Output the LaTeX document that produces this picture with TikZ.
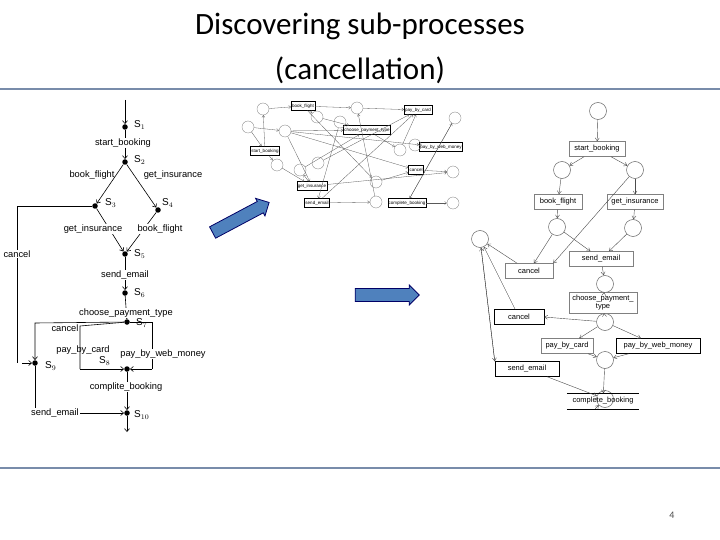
\documentclass[tikz,border=0pt]{standalone}
\usepackage{fontspec}
\setmainfont{Carlito}
\usetikzlibrary{arrows.meta,shapes.arrows}
\definecolor{rulec}{RGB}{120,140,170}
\definecolor{blu}{RGB}{79,129,189}
\begin{document}
\begin{tikzpicture}[x=1pt,y=-1pt,
  st/.style={circle,fill=black,inner sep=0pt,minimum size=5.5pt},
  lb/.style={font=\fontspec{Liberation Sans}\fontsize{9.3}{10}\selectfont,inner sep=1pt},
  sl/.style={font=\fontspec{Liberation Sans}\fontsize{10}{10}\selectfont,inner sep=1pt,anchor=west},
  ar/.style={-{Straight Barb[length=3pt,width=5pt]},line width=0.6pt},
  ln/.style={line width=0.6pt},
  mb/.style={draw,font=\fontspec{Liberation Sans}\fontsize{4.5}{5}\selectfont,inner sep=1pt,minimum height=9pt,line width=0.4pt},
  mc/.style={draw,circle,minimum size=12pt,inner sep=0pt,line width=0.3pt,gray},
  ma/.style={-{Straight Barb[length=2pt,width=3pt]},line width=0.3pt,gray!70!black},
  pb/.style={draw=gray,font=\fontspec{Liberation Sans}\fontsize{7.5}{8}\selectfont,inner sep=1pt,minimum height=15pt,line width=0.5pt},
  pc/.style={draw=gray!80!black,circle,minimum size=17pt,inner sep=0pt,line width=0.5pt},
  pa/.style={-{Straight Barb[length=3pt,width=4pt]},line width=0.4pt,gray!60!black},
  blk/.style={single arrow,draw=blue!40!black,line width=0.8pt,fill=blu,minimum height=64pt,minimum width=20pt,single arrow head extend=3pt,single arrow head indent=0pt,inner sep=5pt}]
\useasboundingbox (0,0) rectangle (720,540);
% title
\node[font=\fontsize{31}{34}\selectfont] (t1) at (360,26) {Discovering sub-processes};
\node[font=\fontsize{31}{34}\selectfont] (t2) at (360,70) {(cancellation)};
\draw[line width=2pt,rulec] (0,89) -- (720,89);
\draw[line width=2pt,rulec] (0,468) -- (720,468);
\node[font=\fontsize{10}{12}\selectfont,gray!60!black] (pg) at (672,515) {4};
% left diagram
\node[st] (s1) at (125,127) {}; \node[st] (s2) at (125,162) {};
\node[st] (s3) at (95,206) {}; \node[st] (s4) at (158,210) {};
\node[st] (s5) at (125,254) {}; \node[st] (s6) at (125,293) {};
\node[st] (s7) at (127,322) {}; \node[st] (s8) at (127,369) {};
\node[st] (s9) at (35,363) {}; \node[st] (s10) at (127,413) {};
\coordinate (in) at (125,100); \coordinate (out) at (127,432);
\draw[ar] (in) -- (s1); \draw[ar] (s1) -- (s2);
\draw[ar] (s2) -- (s3); \draw[ar] (s2) -- (s4);
\draw[ar] (s3) -- (s5); \draw[ar] (s4) -- (s5);
\draw[ar] (s5) -- (s6); \draw[ar] (s6) -- (s7);
\draw[ar] (s8) -- (s10); \draw[ar] (s10) -- (out);
\draw[ln] (s3) -- (17,206) -- (17,363); \draw[ar] (22,363) -- (s9);
\draw[ar] (s7) -- (35,323) -- (s9);
\draw[ln] (s7) -- (80,326) -- (80,369); \draw[ar] (80,369) -- (s8);
\draw[ln] (s7) -- (152,322) -- (152,369); \draw[ar] (152,369) -- (s8);
\draw[ar] (s9) -- (35,413) -- (s10);
\node[sl] at (133,125) {S$_1$}; \node[sl] at (133,160) {S$_2$};
\node[sl] at (104,203) {S$_3$}; \node[sl] at (161,203) {S$_4$};
\node[sl] at (133,254) {S$_5$}; \node[sl] at (133,293) {S$_6$};
\node[sl] at (135,323) {S$_7$}; \node[sl] at (98,361) {S$_8$};
\node[sl] at (44,366) {S$_9$}; \node[sl] at (133,415) {S$_{10}$};
\node[lb,fill=white] at (123,143) {start\_booking};
\node[lb] at (92,175) {book\_flight}; \node[lb] at (173,175) {get\_insurance};
\node[lb,fill=white] at (93,229) {get\_insurance}; \node[lb,fill=white] at (160,229) {book\_flight};
\node[lb,fill=white] at (17,254) {cancel};
\node[lb,fill=white] at (125,275) {send\_email};
\node[lb,fill=white] at (126,313) {choose\_payment\_type};
\node[lb,fill=white] at (65,328) {cancel};
\node[lb] at (83,350) {pay\_by\_card};
\node[lb,fill=white] at (163,354) {pay\_by\_web\_money};
\node[lb,fill=white] at (126,387) {complite\_booking};
\node[lb,fill=white] at (55,413) {send\_email};
% blue arrows
\node[blk,rotate=28] (ba1) at (238,219) {};
\node[blk] (ba2) at (384,295) {};
% middle mini net
\node[mb] (mbf) at (303,106) {book\_flight};
\node[mb] (mpc) at (418,110) {pay\_by\_card};
\node[mb] (mch) at (367,130) {choose\_payment\_type};
\node[mb] (msb) at (265,151) {start\_booking};
\node[mb] (mpw) at (441,147) {pay\_by\_web\_money};
\node[mb] (mca) at (416,170) {cancel};
\node[mb] (mgi) at (312,186) {get\_insurance};
\node[mb] (mse) at (317,203) {send\_email};
\node[mb] (mcb) at (407,203) {complete\_booking};
\node[mc] (c1) at (263,109) {}; \node[mc] (c2) at (248,127) {};
\node[mc] (c3) at (285,131) {}; \node[mc] (c4) at (277,165) {};
\node[mc] (c5) at (317,117) {}; \node[mc] (c6) at (357,108) {};
\node[mc] (c7) at (340,122) {}; \node[mc] (c8) at (455,118) {};
\node[mc] (c9) at (400,150) {}; \node[mc] (c10) at (415,145) {};
\node[mc] (c11) at (318,163) {}; \node[mc] (c12) at (376,182) {};
\node[mc] (c13) at (376,202) {}; \node[mc] (c14) at (453,172) {};
\node[mc] (c15) at (453,203) {}; \node[mc] (c16) at (300,170) {};
\draw[ma] (msb) -- (c1); \draw[ma] (c1) -- (mbf); \draw[ma] (c2) -- (msb);
\draw[ma] (msb) -- (c4); \draw[ma] (c4) -- (mgi); \draw[ma] (mbf) -- (c6);
\draw[ma] (c6) -- (mpc); \draw[ma] (c3) -- (mch); \draw[ma] (c3) -- (mpw);
\draw[ma] (c3) -- (mca); \draw[ma] (c3) -- (mgi); \draw[ma] (mbf) -- (c5);
\draw[ma] (c5) -- (mch); \draw[ma] (mch) -- (c9); \draw[ma] (c9) -- (mpc);
\draw[ma] (c10) -- (mpw); \draw[ma] (mgi) -- (c16); \draw[ma] (c16) -- (mch);
\draw[ma] (c11) -- (mpc); \draw[ma] (mse) -- (c13); \draw[ma] (c13) -- (c6);
\draw[ma] (mgi) -- (c14); \draw[ma] (c12) -- (mca); \draw[ma] (mca) -- (c14);
\draw[ma] (mcb) -- (c15); \draw[ma] (mcb) -- (c8); \draw[ma] (c8) -- (mcb);
\draw[ma] (mbf) -- (c12); \draw[ma] (c7) -- (mse); \draw[ma] (c2) -- (c3);
\draw[ma] (mse) -- (mpc);
% right Petri net
\node[pc] (p0) at (598,111) {}; \node[pc] (p1) at (562,170) {};
\node[pc] (p2) at (635,170) {}; \node[pc] (p3) at (557,227) {};
\node[pc] (p4) at (633,228) {}; \node[pc] (p5) at (480,239) {};
\node[pc] (p6) at (605,284) {}; \node[pc] (p7) at (605,322) {};
\node[pc] (p8) at (605,360) {}; \node[pc] (p9) at (605,399) {};
\node[pb,minimum width=56pt] (tsb) at (597,149) {start\_booking};
\node[pb,minimum width=48pt] (tbf) at (558,202) {book\_flight};
\node[pb,minimum width=56pt] (tgi) at (635,202) {get\_insurance};
\node[pb,minimum width=64pt] (tse) at (601,259) {send\_email};
\node[pb,minimum width=48pt] (tca) at (529,271) {cancel};
\node[pb,minimum width=68pt,minimum height=21pt,align=center,font=\fontspec{Liberation Sans}\fontsize{7.5}{8}\selectfont] (tch) at (603,303) {choose\_payment\_\\type};
\node[pb,draw=black,minimum width=50pt] (tc2) at (519,317) {cancel};
\node[pb,minimum width=52pt] (tpc) at (567,346) {pay\_by\_card};
\node[pb,draw=black,minimum width=84pt] (tpw) at (658,346) {pay\_by\_web\_money};
\node[pb,draw=black,minimum width=64pt] (ts2) at (527,369) {send\_email};
\node[pb,draw=none,minimum width=72pt] (tcb) at (603,401) {complete\_booking};
\draw[line width=0.5pt] (tcb.north west) -- (tcb.north east);
\draw[line width=0.5pt] (tcb.south west) -- (tcb.south east);
\draw[pa] (p0) -- (tsb); \draw[pa] (tsb) -- (p1); \draw[pa] (tsb) -- (p2);
\draw[pa] (p1) -- (tbf); \draw[pa] (p2) -- (tgi);
\draw[pa] (tbf) -- (p3); \draw[pa] (tgi) -- (p4);
\draw[pa] (p3) -- (tca); \draw[pa] (p2) -- (tca.north east);
\draw[pa] (p3) -- (tse); \draw[pa] (p4) -- (tse);
\draw[pa] (tca) -- (p5); \draw[pa] (tse) -- (p6); \draw[pa] (p6) -- (tch);
\draw[pa] (tch) -- (p7); \draw[pa] (p7) -- (tc2.east); \draw[pa] (tc2) -- (p5);
\draw[pa] (p7) -- (tpc); \draw[pa] (p7) -- (tpw);
\draw[pa] (tpc) -- (p8); \draw[pa] (tpw) -- (p8);
\draw[pa] (p8) -- (tcb); \draw[pa] (tcb) -- (p9);
\draw[pa] (ts2) -- (p9);
\draw[pa] (p5) -- (ts2.north west); \draw[pa] (ts2.north west) -- (p5);
\end{tikzpicture}
\end{document}
